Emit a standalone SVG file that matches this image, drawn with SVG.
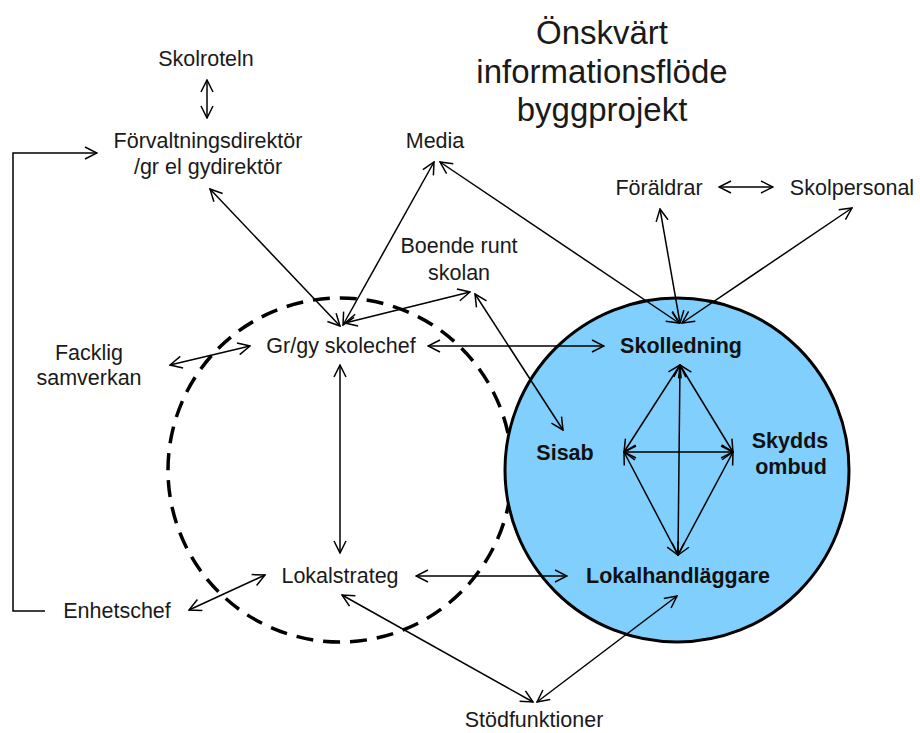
<svg xmlns="http://www.w3.org/2000/svg" width="920" height="733" viewBox="0 0 920 733">
<defs>
<style>
text{font-family:"Liberation Sans",Arial,sans-serif;font-size:21.5px;fill:#1a1a1a;text-anchor:middle}
.b{font-weight:bold;fill:#111}
.t{font-size:33px}
.c line,.c path{stroke:#000;stroke-width:1.5;fill:none;marker-start:url(#ah);marker-end:url(#ah)}
.c .one{marker-start:none}
</style>
<marker id="ah" viewBox="0 0 14 14" refX="13" refY="7" markerWidth="14" markerHeight="14" markerUnits="userSpaceOnUse" orient="auto-start-reverse">
<path d="M1,1 L13,7 L1,13" fill="none" stroke="#000" stroke-width="1.5"/>
</marker>
</defs>
<rect width="920" height="733" fill="#fff"/>
<g id="groups">
<circle id="dashed-circle" cx="340" cy="470" r="172" fill="none" stroke="#000" stroke-width="3.5" stroke-dasharray="17 10"/>
<circle id="blue-circle" cx="677" cy="470" r="172" fill="#80cffd" stroke="#000" stroke-width="3"/>
</g>
<g id="title"><text class="t" x="602" y="44">Önskvärt</text><text class="t" x="602" y="83">informationsflöde</text><text class="t" x="602" y="121">byggprojekt</text></g>
<g id="skolroteln"><text x="206" y="66">Skolroteln</text></g>
<g id="forvaltningsdirektor"><text x="208" y="148">Förvaltningsdirektör</text><text x="208" y="174">/gr el gydirektör</text></g>
<g id="media"><text x="435" y="148">Media</text></g>
<g id="boende"><text x="459" y="253">Boende runt</text><text x="459" y="280">skolan</text></g>
<g id="foraldrar"><text x="659" y="195">Föräldrar</text></g>
<g id="skolpersonal"><text x="852" y="195">Skolpersonal</text></g>
<g id="facklig"><text x="89" y="360">Facklig</text><text x="89" y="385">samverkan</text></g>
<g id="skolechef"><text x="341" y="353">Gr/gy skolechef</text></g>
<g id="lokalstrateg"><text x="340" y="583">Lokalstrateg</text></g>
<g id="enhetschef"><text x="117" y="618">Enhetschef</text></g>
<g id="stodfunktioner"><text x="534" y="727">Stödfunktioner</text></g>
<g id="skolledning"><text class="b" x="681" y="353">Skolledning</text></g>
<g id="sisab"><text class="b" x="565" y="460">Sisab</text></g>
<g id="skyddsombud"><text class="b" x="790" y="448">Skydds</text><text class="b" x="791" y="474">ombud</text></g>
<g id="lokalhandlaggare"><text class="b" x="678" y="583">Lokalhandläggare</text></g>
<g id="connectors" class="c">
<line x1="207" y1="80" x2="207" y2="118"/>
<path class="one" d="M45,611 H13 V153 H97"/>
<line x1="210" y1="189" x2="340" y2="326"/>
<line x1="434" y1="162" x2="343" y2="325"/>
<line x1="440" y1="162" x2="679" y2="323"/>
<line x1="470" y1="292" x2="345" y2="323"/>
<line x1="475" y1="294" x2="563" y2="430"/>
<line x1="660" y1="209" x2="680" y2="323"/>
<line x1="852" y1="208" x2="682" y2="323"/>
<line x1="719" y1="187" x2="773" y2="187"/>
<line x1="170" y1="365" x2="250" y2="346"/>
<line x1="428" y1="346" x2="604" y2="346"/>
<line x1="340" y1="365" x2="340" y2="553"/>
<line x1="189" y1="610" x2="265" y2="575"/>
<line x1="416" y1="576" x2="567" y2="576"/>
<line x1="342" y1="595" x2="533" y2="702"/>
<line x1="537" y1="702" x2="677" y2="596"/>
<line x1="680" y1="365" x2="624" y2="452"/>
<line x1="680" y1="365" x2="733" y2="452"/>
<line x1="680" y1="365" x2="678" y2="555"/>
<line x1="624" y1="452" x2="733" y2="452"/>
<line x1="624" y1="452" x2="678" y2="555"/>
<line x1="733" y1="452" x2="678" y2="555"/>
</g>
</svg>
